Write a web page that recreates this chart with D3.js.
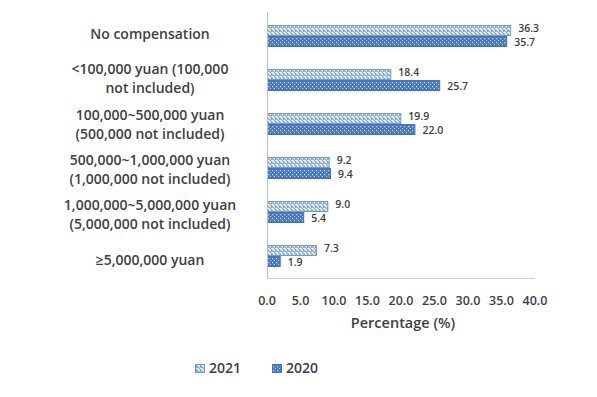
<!DOCTYPE html>
<html>
<head>
<meta charset="utf-8">
<script src="https://cdn.jsdelivr.net/npm/d3@7"></script>
<style>
  body { margin: 0; background: #fff; }
  svg text { font-family: "Open Sans", sans-serif; fill: #404040; }
</style>
</head>
<body>
<div id="vis"><svg></svg></div>
<script>
// categories, top to bottom (each label split into its lines)
const categories = [
  ["No compensation"],
  ["<100,000 yuan (100,000", "not included)"],
  ["100,000~500,000 yuan", "(500,000 not included)"],
  ["500,000~1,000,000 yuan", "(1,000,000 not included)"],
  ["1,000,000~5,000,000 yuan", "(5,000,000 not included)"],
  ["\u22655,000,000 yuan"]
];
const series = ["2021", "2020"];
const values2021 = [36.3, 18.4, 19.9, 9.2, 9.0, 7.3];
const values2020 = [35.7, 25.7, 22.0, 9.4, 5.4, 1.9];
const xTicks = [0, 5, 10, 15, 20, 25, 30, 35, 40];
const axisTitle = "Percentage (%)";

const w = 597, h = 397;
const margin = {top: 14, right: 62, bottom: 119, left: 267};
const width = w - margin.left - margin.right;
const height = h - margin.top - margin.bottom;

const svg = d3.select("#vis").select("svg").attr("width", w).attr("height", h);

// patterns for the two years
const defs = svg.append("defs");
const hatch = defs.append("pattern")
  .attr("id", "hatch").attr("patternUnits", "userSpaceOnUse")
  .attr("width", 4).attr("height", 4);
hatch.append("rect").attr("width", 4).attr("height", 4).attr("fill", "#fff");
hatch.append("path").attr("d", "M-1,1 L1,3 M0,0 L4,4 M3,-1 L5,1")
  .attr("stroke", "#7ea3d8").attr("stroke-width", 1.3);
const dots = defs.append("pattern")
  .attr("id", "dots").attr("patternUnits", "userSpaceOnUse")
  .attr("width", 4).attr("height", 4);
dots.append("rect").attr("width", 4).attr("height", 4).attr("fill", "#4a78c8");
dots.append("rect").attr("x", 1).attr("y", 1).attr("width", 1.2).attr("height", 1.2).attr("fill", "#c9d7f0");
dots.append("rect").attr("x", 3).attr("y", 3).attr("width", 1.2).attr("height", 1.2).attr("fill", "#c9d7f0");

const fills = {"2021": "url(#hatch)", "2020": "url(#dots)"};
const strokes = {"2021": "#6f98d6", "2020": "#4472c4"};

const x = d3.scaleLinear().domain([0, 40]).range([0, width]);
const y = d3.scaleBand().domain(d3.range(categories.length)).range([0, height]).paddingInner(0.5).paddingOuter(0.25);
const ySub = d3.scaleBand().domain(series).range([0, y.bandwidth()]);
// the category labels sit on a slightly wider spacing than the bars
const yLabel = d3.scalePoint().domain(d3.range(categories.length)).range([33.5, 260]);

const g = svg.append("g").attr("transform", `translate(${margin.left},${margin.top})`);

const rows = categories.map((c, i) => ({i, c, "2021": values2021[i], "2020": values2020[i]}));

// bars
const groups = g.selectAll(".grp").data(rows).enter().append("g")
  .attr("class", "grp")
  .attr("transform", d => `translate(0,${y(d.i)})`);

series.forEach((s, si) => {
  groups.append("rect")
    .attr("x", 0.5)
    .attr("y", ySub(s) + 0.5)
    .attr("width", d => x(d[s]))
    .attr("height", ySub.bandwidth() - 1)
    .attr("fill", fills[s])
    .attr("stroke", strokes[s])
    .attr("stroke-width", 1);
  groups.append("text")
    .attr("x", d => x(d[s]) + 8)
    .attr("y", ySub(s) + ySub.bandwidth() / 2 + 3 + (si === 0 ? -1.5 : 1.5))
    .attr("font-size", 10.5)
    .attr("font-weight", 600)
    .text(d => d[s].toFixed(1));
});

// axes lines
g.append("line").attr("x1", 0.5).attr("x2", 0.5).attr("y1", -2).attr("y2", height)
  .attr("stroke", "#bfbfbf");
g.append("line").attr("x1", 0).attr("x2", width).attr("y1", height + 0.5).attr("y2", height + 0.5)
  .attr("stroke", "#d0d0d0");

// x tick labels
g.selectAll(".xt").data(xTicks).enter().append("text")
  .attr("class", "xt")
  .attr("x", d => x(d))
  .attr("y", height + 27)
  .attr("text-anchor", "middle")
  .attr("font-size", 12.5)
  .attr("font-weight", 600)
  .text(d => d.toFixed(1));

g.append("text")
  .attr("x", width / 2 + 2)
  .attr("y", height + 50)
  .attr("text-anchor", "middle")
  .attr("font-size", 14.5)
  .attr("font-weight", 600)
  .text(axisTitle);

// category labels
const labelX = 150;
const labels = svg.append("g").selectAll(".cat").data(rows).enter().append("text")
  .attr("class", "cat")
  .attr("text-anchor", "middle")
  .attr("font-size", 14)
  .attr("font-weight", 600);
labels.each(function(d) {
  const t = d3.select(this);
  const n = d.c.length;
  d.c.forEach((line, k) => {
    t.append("tspan")
      .attr("x", labelX)
      .attr("y", yLabel(d.i) + 5 + (k - (n - 1) / 2) * 19)
      .text(line);
  });
});

// legend
const legend = svg.append("g").attr("transform", "translate(0,373)");
const legendX = {"2021": 195, "2020": 272};
series.forEach(s => {
  legend.append("rect")
    .attr("x", legendX[s] + 0.5).attr("y", -8.5)
    .attr("width", 9).attr("height", 8)
    .attr("fill", fills[s]).attr("stroke", strokes[s]);
  legend.append("text")
    .attr("x", legendX[s] + 14)
    .attr("y", 0)
    .attr("font-size", 14)
    .attr("font-weight", 600)
    .text(s);
});
</script>
</body>
</html>
